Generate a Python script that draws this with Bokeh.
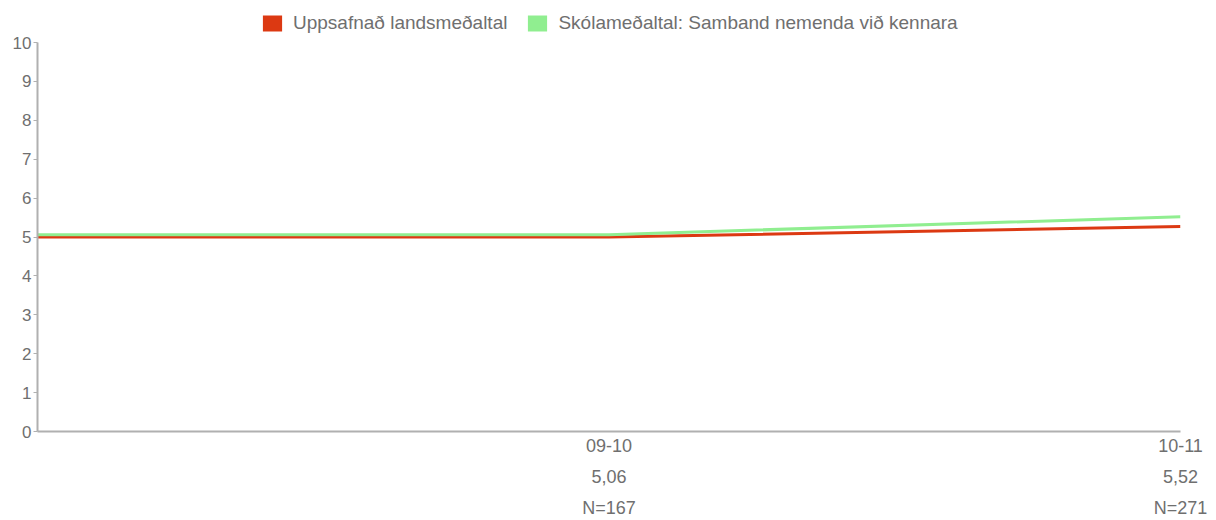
from bokeh.plotting import figure
from bokeh.models import (Range1d, LinearAxis, FixedTicker, Legend, LegendItem,
                          ColumnDataSource)
from bokeh.embed import file_html
from bokeh.resources import INLINE

# Data
positions = [0, 1, 2]
periods = ["", "09-10", "10-11"]
school_means_txt = ["", "5,06", "5,52"]
n_labels = ["", "N=167", "N=271"]
national_avg = [5.00, 5.00, 5.27]
school_avg = [5.06, 5.06, 5.52]
y_ticks = list(range(0, 11))

FONT = "Liberation Sans"
FS = "18px"
TXT = "#6f6f6f"
AXC = "#b0b0b0"
RED = "#dc3912"
GREEN = "#90ee90"

# frame spans full top; headroom above 10 holds the legend
FRAME_H = 431.0
PLOT_H = 389.0
y_top = 10 * FRAME_H / PLOT_H

p = figure(width=1216, height=520, output_backend="svg", toolbar_location=None,
           x_range=Range1d(0, 2), y_range=Range1d(0, y_top),
           min_border_left=37, min_border_right=36, min_border_top=0,
           min_border_bottom=0, x_axis_location=None, y_axis_location=None)
p.outline_line_color = None
p.xgrid.visible = False
p.ygrid.visible = False
p.background_fill_color = "white"
p.border_fill_color = "white"

src = ColumnDataSource(dict(x=positions, nat=national_avg, sch=school_avg))
p.line("x", "nat", source=src, line_color=RED, line_width=3)
p.line("x", "sch", source=src, line_color=GREEN, line_width=3)

# legend swatches: degenerate (zero-area) quads on the data, visible only in the legend
s1 = p.quad(left="x", right="x", bottom="nat", top="nat", source=src,
            fill_color=RED, line_color=None)
s2 = p.quad(left="x", right="x", bottom="sch", top="sch", source=src,
            fill_color=GREEN, line_color=None)

# Y axis
yax = LinearAxis(ticker=FixedTicker(ticks=y_ticks), bounds=(0, 10))
yax.axis_line_color = AXC
yax.axis_line_width = 2
yax.major_tick_line_color = AXC
yax.major_tick_out = 4
yax.major_tick_in = 0
yax.minor_tick_line_color = None
yax.major_label_text_font = FONT
yax.major_label_text_font_size = "17px"
yax.major_label_text_color = TXT
yax.major_label_standoff = 2
p.add_layout(yax, "left")

# Stacked bottom axes
rows = [periods, school_means_txt, n_labels]
standoffs = [4, 8, 8]
for i, (row, so) in enumerate(zip(rows, standoffs)):
    ax = LinearAxis(ticker=FixedTicker(ticks=positions))
    ax.major_label_overrides = {pos: (lab if lab else " ") for pos, lab in zip(positions, row)}
    ax.major_tick_line_color = None
    ax.major_tick_out = 0
    ax.major_tick_in = 0
    ax.minor_tick_line_color = None
    ax.minor_tick_out = 0
    ax.major_label_text_font = FONT
    ax.major_label_text_font_size = FS
    ax.major_label_text_color = TXT
    ax.major_label_standoff = so
    if i == 0:
        ax.axis_line_color = AXC
        ax.axis_line_width = 2
    else:
        ax.axis_line_color = None
    p.add_layout(ax, "below")

legend = Legend(items=[
    LegendItem(label="Uppsafnað landsmeðaltal", renderers=[s1]),
    LegendItem(label="Skólameðaltal: Samband nemenda við kennara", renderers=[s2]),
], orientation="horizontal", location=(223, 397))
legend.label_text_font = FONT
legend.label_text_font_size = "19px"
legend.label_text_color = TXT
legend.glyph_width = 24
legend.glyph_height = 20
legend.label_standoff = 9
legend.spacing = 18
legend.padding = 4
legend.margin = 0
legend.border_line_color = None
legend.background_fill_alpha = 0
p.add_layout(legend, "center")

open("out.html", "w").write(file_html(p, INLINE))
